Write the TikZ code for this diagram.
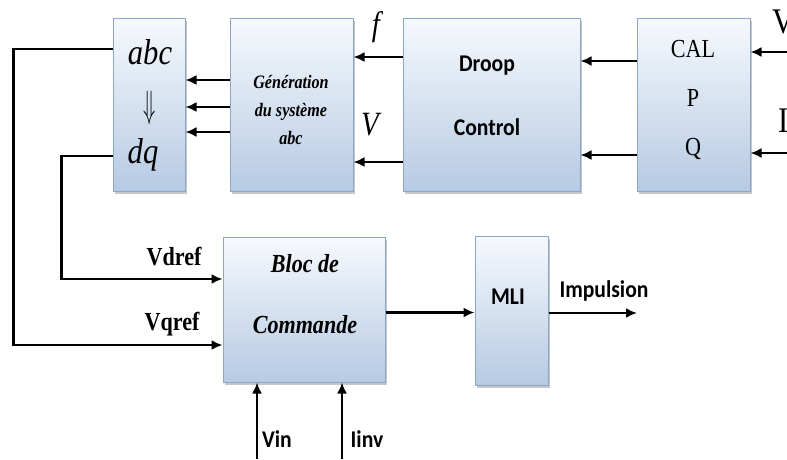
\documentclass[tikz,border=0pt]{standalone}
\usepackage{fontspec}
\setmainfont{Liberation Serif}[FakeStretch=0.85]
\newfontfamily\calib{Carlito}[FakeStretch=0.9]
\usetikzlibrary{arrows.meta, positioning, shadows}

\definecolor{boxtop}{RGB}{246,249,253}
\definecolor{boxbot}{RGB}{182,202,227}
\definecolor{boxedge}{RGB}{140,166,200}

\tikzset{
  bloc/.style={draw=boxedge, line width=1pt, inner sep=0pt,
    top color=boxtop, bottom color=boxbot,
    drop shadow={shadow xshift=2pt, shadow yshift=-2.5pt, fill=black!50, opacity=0.45}},
  arr/.style={line width=2.1pt, -{Latex[length=11pt,width=10pt]}},
  sans/.style={font=\calib\bfseries\fontsize{24}{24}\selectfont},
}

\begin{document}
\begin{tikzpicture}[x=1pt, y=-1pt]
    \useasboundingbox (0,0) rectangle (787,459);

    % blocs du haut
    \node [bloc, minimum width=72pt, minimum height=173pt] (park) at (149,105) {};
    \node [bloc, minimum width=123pt, minimum height=173pt] (gen) at (291.5,105) {};
    \node [bloc, minimum width=177pt, minimum height=173pt] (droop) at (491.5,105) {};
    \node [bloc, minimum width=113pt, minimum height=173pt] (cal) at (693.5,105) {};

    % blocs du bas
    \node [bloc, minimum width=162pt, minimum height=145pt] (cmd) at (304,309.5) {};
    \node [bloc, minimum width=73pt, minimum height=149pt] (mli) at (511.5,310.5) {};

    % textes
    \node (tabc) at (150,52) {\fontsize{36}{36}\selectfont\itshape abc};
    \node (tdown) at (150,108) {\scalebox{2.0}[3.8]{$\Downarrow$}};
    \node (tdq) at (143,155) {\fontsize{36}{36}\selectfont\itshape dq};
    \node [align=center, font=\fontsize{19}{28}\selectfont\bfseries\itshape] (tgen) at (291,110) {Génération\\du système\\abc};
    \node [sans] (tdroop) at (487,66) {Droop};
    \node [sans] (tcontrol) at (487,127) {Control};
    \node [font=\fontsize{26}{26}\selectfont] (tcal) at (693,49) {CAL};
    \node [font=\fontsize{26}{26}\selectfont] (tp) at (693,98) {P};
    \node [font=\fontsize{26}{26}\selectfont] (tq) at (693,149) {Q};
    \node [font=\fontsize{26}{26}\selectfont\bfseries\itshape] (tbloc) at (305,264) {Bloc de};
    \node [font=\fontsize{26}{26}\selectfont\bfseries\itshape] (tcmd) at (305,325) {Commande};
    \node [sans] (tmli) at (508,297) {MLI};

    % entrees a droite
    \coordinate (inV) at (787,52);
    \coordinate (inI) at (787,153);
    \node [font=\fontsize{36}{36}\selectfont, anchor=west, inner sep=0pt] (lV) at (772,22) {V};
    \node [font=\fontsize{36}{36}\selectfont, anchor=west, inner sep=0pt] (lI) at (778,121) {I};
    \draw[arr] (inV) -- (inV -| cal.east);
    \draw[arr] (inI) -- (inI -| cal.east);

    \draw[arr] ([yshift=44pt]cal.west) -- ([yshift=44pt]droop.east);
    \draw[arr] ([yshift=-50pt]cal.west) -- ([yshift=-50pt]droop.east);

    \draw[arr] ([yshift=48pt]droop.west) -- ([yshift=48pt]gen.east);
    \draw[arr] ([yshift=-57pt]droop.west) -- ([yshift=-57pt]gen.east);
    \node [font=\fontsize{34}{34}\selectfont\itshape] (lf) at (376,27) {f};
    \node [font=\fontsize{34}{34}\selectfont\itshape] (lVg) at (370,125) {V};

    \foreach \dy in {25,-2,-27}
        \draw[arr] ([yshift=\dy pt]gen.west) -- ([yshift=\dy pt]park.east);

    % retours vers le bloc de commande
    \draw[arr] ([yshift=56pt]park.west) -- ++(-99,0) |- ([yshift=-35.5pt]cmd.west);
    \draw[arr] ([yshift=-51pt]park.west) -- ++(-51,0) |- ([yshift=30.5pt]cmd.west);
    \node [font=\fontsize{26}{26}\selectfont\bfseries, anchor=east] (lvd) at (205,257) {Vdref};
    \node [font=\fontsize{26}{26}\selectfont\bfseries, anchor=east] (lvq) at (203,324) {Vqref};

    \draw[arr] ([yshift=-3pt]cmd.east) -- ([yshift=-3pt]cmd.east -| mli.west);
    \coordinate (out) at (637,313);
    \draw[arr] (mli.east |- out) -- (out);
    \node [sans] (limp) at (604,291) {Impulsion};

    \coordinate (vinb) at (257,459);
    \coordinate (iinvb) at (342,459);
    \draw[arr] (vinb) -- (vinb |- cmd.south);
    \draw[arr] (iinvb) -- (iinvb |- cmd.south);
    \node [sans] (lvin) at (277,439) {Vin};
    \node [sans] (liinv) at (367,439) {Iinv};
\end{tikzpicture}
\end{document}
